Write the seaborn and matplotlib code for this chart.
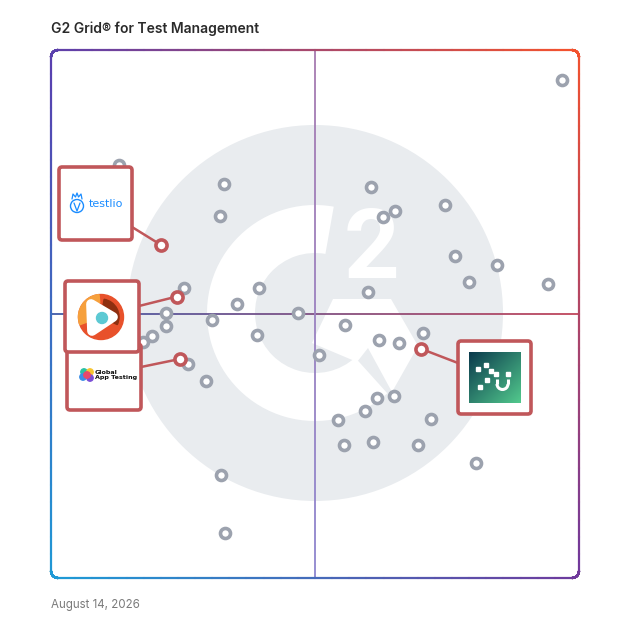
import numpy as np
import matplotlib.pyplot as plt
import matplotlib.patches as mpatches
from matplotlib.collections import LineCollection
from matplotlib.colors import to_rgb
import seaborn as sns

# =========================
# DATA (grid position 0-100, x = satisfaction, y = market presence)

other_x = [96.8, 12.9, 32.7, 32.0, 60.6, 74.7, 65.1, 62.9, 76.6, 84.5,
           79.2, 94.2, 60.1, 25.1, 39.3, 35.2, 46.7, 30.5, 21.7, 21.7,
           19.1, 17.4, 39.1, 55.6, 62.2, 65.9, 70.4, 50.8, 25.9, 29.4,
           61.7, 65.0, 59.4, 54.4, 72.0, 55.4, 61.0, 69.5, 80.5, 32.2, 33.0]
other_y = [94.3, 78.2, 74.7, 68.6, 74.1, 70.7, 69.5, 68.3, 60.9, 59.3,
           56.1, 55.7, 54.2, 54.9, 55.0, 51.9, 50.1, 48.9, 50.2, 47.7,
           45.9, 44.7, 46.1, 47.9, 45.0, 44.6, 46.4, 42.3, 40.5, 37.4,
           34.0, 34.4, 31.7, 30.0, 30.2, 25.1, 25.7, 25.1, 21.8, 19.5, 8.5]

featured = ["testlio", "play", "gat", "teal"]
featured_x = [20.8, 23.8, 24.5, 70.1]
featured_y = [63.1, 53.3, 41.5, 43.4]

title = "G2 Grid\u00ae for Test Management"
date_label = "August 14, 2026"

# =========================
# STYLE

sns.set_style("white")
plt.rcParams['font.family'] = ['Inter', 'DejaVu Sans']

GRAY = "#9ca2ae"
RED = "#c0575a"
BG = "#e9ecef"

fig = plt.figure(figsize=(6.28, 6.28), dpi=100)
ax = fig.add_axes([51 / 628, 50 / 628, 528 / 628, 528 / 628])
ax.set_xlim(0, 100)
ax.set_ylim(0, 100)
ax.axis("off")


def P(x, y):
    # pixel position in the 628px picture -> data coords
    return ((x - 51) / 5.28, (578 - y) / 5.28)


def mix(c1, c2, t):
    a, b = np.array(to_rgb(c1)), np.array(to_rgb(c2))
    return tuple(a + (b - a) * t)


# background G2 mark
ctr = P(315, 313)
ax.add_patch(mpatches.Circle(ctr, 188 / 5.28, color=BG, zorder=0, lw=0))
ax.add_patch(mpatches.Wedge(ctr, 108 / 5.28, 80, 312, width=48 / 5.28,
                            color="white", zorder=0.5, lw=0))
chev = [(333, 299), (391, 299), (418, 346), (392, 392), (368, 348),
        (357, 362), (312, 343)]
ax.add_patch(mpatches.Polygon([P(*p) for p in chev], closed=True,
                              color="white", zorder=0.5, lw=0))
ax.text(*P(372, 252), "2", fontsize=70, fontweight="bold", color="white",
        ha="center", va="center", family="Roboto", zorder=0.6)

# quadrant lines with gradient
n = 200
xs = np.linspace(0, 100, n)
seg = [[(xs[i], 50), (xs[i + 1], 50)] for i in range(n - 1)]
cols = [mix("#3f5aa9", "#c1465b", i / (n - 2)) for i in range(n - 1)]
ax.add_collection(LineCollection(seg, colors=cols, linewidths=1.3, zorder=1))
seg = [[(50, 100 - xs[i]), (50, 100 - xs[i + 1])] for i in range(n - 1)]
cols = [mix("#a77bb0", "#8e86cf", i / (n - 2)) for i in range(n - 1)]
ax.add_collection(LineCollection(seg, colors=cols, linewidths=1.3, zorder=1))

# rounded frame with corner-colour gradient (axes coords)
r = 7 / 528
pts = []
corners = [((1 - r, 1 - r), 0, 90), ((r, 1 - r), 90, 180),
           ((r, r), 180, 270), ((1 - r, r), 270, 360)]
for (cx, cy), a0, a1 in corners:
    for a in np.linspace(np.radians(a0), np.radians(a1), 12):
        pts.append((cx + r * np.cos(a), cy + r * np.sin(a)))
pts.append(pts[0])
dense = []
for i in range(len(pts) - 1):
    for t in np.linspace(0, 1, 30, endpoint=False):
        dense.append((pts[i][0] + (pts[i + 1][0] - pts[i][0]) * t,
                      pts[i][1] + (pts[i + 1][1] - pts[i][1]) * t))
dense.append(pts[0])
TL, TR, BL, BR = "#5a3fae", "#f4522d", "#1e9ad6", "#70399c"
seg, cols = [], []
for i in range(len(dense) - 1):
    u, v = dense[i]
    top = np.array(mix(TL, TR, u))
    bot = np.array(mix(BL, BR, u))
    cols.append(tuple(np.clip(bot + (top - bot) * v, 0, 1)))
    seg.append([dense[i], dense[i + 1]])
ax.add_collection(LineCollection(seg, colors=cols, linewidths=1.6,
                                 transform=ax.transAxes, zorder=2,
                                 clip_on=False, capstyle="round"))

# products
sns.scatterplot(x=other_x, y=other_y, ax=ax, s=52, color="white",
                edgecolor=GRAY, linewidth=2.6, zorder=4, legend=False,
                clip_on=False)

# callout boxes (pixel layout)
boxes = {"testlio": (59, 167, 132, 240), "gat": (67, 344, 141, 410),
         "play": (65, 281, 139, 352), "teal": (458, 341, 531, 414)}
anchors = {"testlio": (132, 227), "play": (139, 306), "gat": (141, 367),
           "teal": (458, 363)}

for name, fx, fy in zip(featured, featured_x, featured_y):
    ax.plot([P(*anchors[name])[0], fx], [P(*anchors[name])[1], fy],
            color=RED, lw=1.8, zorder=5, clip_on=False)

zb = {"testlio": 6, "gat": 6, "play": 6.5, "teal": 6}
for name in ["testlio", "gat", "play", "teal"]:
    l, t, rr, b = boxes[name]
    x0, y0 = P(l, b)
    x1, y1 = P(rr, t)
    ax.add_patch(mpatches.FancyBboxPatch(
        (x0, y0), x1 - x0, y1 - y0, boxstyle="round,pad=0,rounding_size=0.6",
        facecolor="white", edgecolor=RED, lw=2.6, zorder=zb[name],
        clip_on=False))

# testlio logo
ax.text(*P(106, 204), "testlio", color="#1a8cff", fontsize=8,
        family="DejaVu Sans", ha="center", va="center", zorder=7)
ax.add_patch(mpatches.Circle(P(77, 206), 6.5 / 5.28, facecolor="none",
                             edgecolor="#1a8cff", lw=1.0, zorder=7))
crown = [(72, 199), (73, 194), (75.5, 197), (77, 193), (78.5, 197),
         (81, 194), (82, 199)]
ax.plot(*zip(*[P(*p) for p in crown]), color="#1a8cff", lw=0.9, zorder=7,
        clip_on=False)
ax.plot(*zip(*[P(74, 203), P(77, 211), P(80, 203)]), color="#1a8cff",
        lw=0.9, zorder=7, clip_on=False)

# play-style logo
c = P(101, 317)
ax.add_patch(mpatches.Circle(c, 22.5 / 5.28, color="#e8512b", zorder=7.5))
ax.add_patch(mpatches.Wedge(c, 22.5 / 5.28, 95, 200, width=8 / 5.28,
                            color="#f6a03c", zorder=7.6))
ax.add_patch(mpatches.Wedge(c, 18 / 5.28, -25, 80, width=8 / 5.28,
                            color="#8e2f10", zorder=7.6))
tri = [(91, 304), (113, 317), (92, 331)]
ax.add_patch(mpatches.Polygon([P(*p) for p in tri], closed=True,
                              color="white", zorder=7.7,
                              joinstyle="round", lw=7, ec="white"))
ax.add_patch(mpatches.Circle(P(102, 318), 5.5 / 5.28, color="#5cc9d3",
                             zorder=7.8))

# global app testing logo
for (dx, dy), col in zip([(-3, -3), (3, -3), (-4, 2), (3, 3), (0, 0)],
                         ["#2ac1a3", "#f7c531", "#3b8ee6", "#7b4fd6",
                          "#e8476a"]):
    ax.add_patch(mpatches.Circle(P(87 + dx, 375 + dy), 3.2 / 5.28,
                                 color=col, zorder=7))
ax.text(*P(95, 375), "Global\nApp Testing", fontsize=4.6, fontweight="bold",
        color="#111111", ha="left", va="center", linespacing=1.0, zorder=7,
        family="DejaVu Sans")

# teal square logo
g = np.linspace(0, 1, 60)
gu, gv = np.meshgrid(g, g)
tt = (gu + gv) / 2
c0, c1 = np.array(to_rgb("#0b3a4d")), np.array(to_rgb("#52c98d"))
img = c0 + (c1 - c0) * tt[..., None]
x0, y0 = P(469, 403)
x1, y1 = P(520, 352)
ax.imshow(img, extent=[x0, x1, y0, y1], aspect="auto", zorder=7,
          origin="upper")
ax.set_xlim(0, 100)
ax.set_ylim(0, 100)
for sx, sy in [(478, 369), (486, 365), (491, 371), (496, 374), (487, 380),
               (480, 387), (508, 374)]:
    qx, qy = P(sx - 1.8, sy + 1.8)
    ax.add_patch(mpatches.Rectangle((qx, qy), 3.6 / 5.28, 3.6 / 5.28,
                                    color="white", zorder=8))
ax.add_patch(mpatches.Arc(P(502.5, 384), 11 / 5.28, 11 / 5.28, theta1=180,
                          theta2=360, color="white", lw=2.2, zorder=8))
ax.plot(*zip(P(497, 384), P(497, 379)), color="white", lw=2.2, zorder=8,
        solid_capstyle="butt")
ax.plot(*zip(P(508, 384), P(508, 379)), color="white", lw=2.2, zorder=8,
        solid_capstyle="butt")

# featured products
sns.scatterplot(x=featured_x, y=featured_y, ax=ax, s=64, color="white",
                edgecolor=RED, linewidth=2.6, zorder=9, legend=False,
                clip_on=False)

fig.text(51 / 628, 1 - 29 / 628, title, fontsize=10, fontweight="semibold",
         color="#2a2a2a", va="center", ha="left")
fig.text(51 / 628, 1 - 605 / 628, date_label, fontsize=8.3, color="#7a7a7a",
         va="center", ha="left")

plt.savefig("out.png", dpi=100)
